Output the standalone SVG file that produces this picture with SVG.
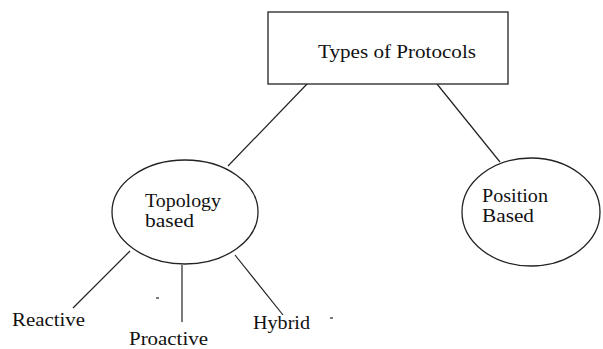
<svg xmlns="http://www.w3.org/2000/svg" width="603" height="349" viewBox="0 0 603 349">
<style>
.shape{fill:#fff;stroke:#222;stroke-width:1.3}
.edge{stroke:#222;stroke-width:1.2;fill:none}
</style>
<rect width="603" height="349" fill="#fff"/>
<g id="connectors">
<line class="edge" x1="307" y1="84" x2="228" y2="166"/>
<line class="edge" x1="437" y1="84" x2="500" y2="162"/>
<line class="edge" x1="130" y1="251" x2="73" y2="308"/>
<line class="edge" x1="182" y1="265" x2="182" y2="322"/>
<line class="edge" x1="235" y1="255" x2="283" y2="315"/>
</g>
<g font-family="Liberation Serif, DejaVu Serif, serif" font-size="18" fill="#111">
<g id="root">
<rect class="shape" x="268" y="12" width="240" height="72"/>
<text x="318" y="58" textLength="158" lengthAdjust="spacingAndGlyphs">Types of Protocols</text>
</g>
<g id="topology">
<ellipse class="shape" cx="185" cy="212" rx="73" ry="52"/>
<text x="145" y="207" textLength="76" lengthAdjust="spacingAndGlyphs">Topology</text>
<text x="145" y="227" textLength="49" lengthAdjust="spacingAndGlyphs">based</text>
</g>
<g id="position">
<ellipse class="shape" cx="531" cy="212" rx="69" ry="54"/>
<text x="482" y="202" textLength="66" lengthAdjust="spacingAndGlyphs">Position</text>
<text x="482" y="222" textLength="52" lengthAdjust="spacingAndGlyphs">Based</text>
</g>
<g id="reactive">
<text x="12" y="326" textLength="73" lengthAdjust="spacingAndGlyphs">Reactive</text>
</g>
<g id="proactive">
<text x="129" y="345" textLength="79" lengthAdjust="spacingAndGlyphs">Proactive</text>
</g>
<g id="hybrid">
<text x="253" y="329" textLength="57" lengthAdjust="spacingAndGlyphs">Hybrid</text>
</g>
</g>
<line x1="156" y1="298" x2="159" y2="298" stroke="#222" stroke-width="1.2"/>
<line x1="330" y1="318" x2="333" y2="318" stroke="#222" stroke-width="1.2"/>
</svg>
